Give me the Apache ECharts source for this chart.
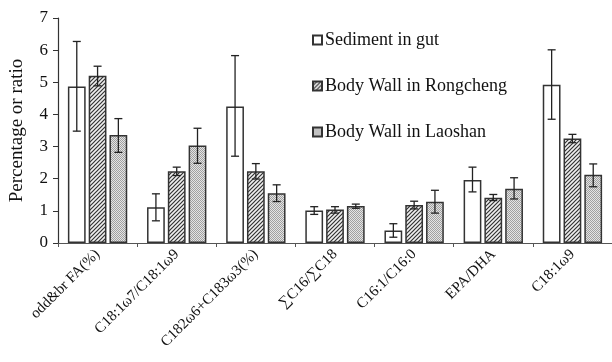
<!DOCTYPE html>
<html><head><meta charset="utf-8">
<script src="https://cdn.jsdelivr.net/npm/echarts@6/dist/echarts.min.js"></script>
<style>html,body{margin:0;padding:0;background:#fff}#c{width:612px;height:362px}</style>
</head><body><div id="c"></div>
<script>
var categories = ['odd&br FA(%)', 'C18:1ω7/C18:1ω9', 'C182ω6+C183ω3(%)', '∑C16/∑C18', 'C16:1/C16:0', 'EPA/DHA', 'C18:1ω9'];
var seriesNames = ['Sediment in gut', 'Body Wall in Rongcheng', 'Body Wall in Laoshan'];
var sediment = [4.87, 1.11, 4.25, 1.01, 0.39, 1.96, 4.92];
var sedimentLow = [3.48, 0.69, 2.70, 0.89, 0.18, 1.59, 3.85];
var sedimentHigh = [6.27, 1.53, 5.83, 1.13, 0.60, 2.36, 6.01];
var rongcheng = [5.20, 2.23, 2.23, 1.04, 1.18, 1.41, 3.25];
var rongchengLow = [4.89, 2.10, 1.99, 0.93, 1.06, 1.32, 3.12];
var rongchengHigh = [5.50, 2.36, 2.47, 1.13, 1.30, 1.51, 3.38];
var laoshan = [3.36, 3.03, 1.55, 1.15, 1.28, 1.69, 2.12];
var laoshanLow = [2.82, 2.48, 1.29, 1.08, 0.93, 1.37, 1.75];
var laoshanHigh = [3.87, 3.57, 1.81, 1.21, 1.64, 2.03, 2.46];
var yTicks = [0, 1, 2, 3, 4, 5, 6, 7];

function hatchPattern() {
  var c = document.createElement('canvas'); c.width = 4; c.height = 4;
  var g = c.getContext('2d');
  g.fillStyle = '#f0f0f0'; g.fillRect(0, 0, 4, 4);
  g.strokeStyle = '#333'; g.lineWidth = 1.2;
  g.beginPath();
  g.moveTo(-1, 5); g.lineTo(5, -1);
  g.moveTo(-1, 1); g.lineTo(1, -1);
  g.moveTo(3, 5); g.lineTo(5, 3);
  g.stroke();
  return c;
}
function dotPattern() {
  var c = document.createElement('canvas'); c.width = 2; c.height = 2;
  var g = c.getContext('2d');
  g.fillStyle = '#e4e4e4'; g.fillRect(0, 0, 2, 2);
  g.fillStyle = '#a0a0a0'; g.fillRect(0, 0, 1, 1); g.fillRect(1, 1, 1, 1);
  return c;
}
var fills = ['#ffffff', {image: hatchPattern(), repeat: 'repeat'}, {image: dotPattern(), repeat: 'repeat'}];
var values = [sediment, rongcheng, laoshan];
var lows = [sedimentLow, rongchengLow, laoshanLow];
var highs = [sedimentHigh, rongchengHigh, laoshanHigh];

var CAT_GAP = 0.25, BAR_GAP = 0.17;
var font = '"Liberation Serif", "DejaVu Serif", serif';

var series = [];
values.forEach(function (v, i) {
  series.push({
    name: seriesNames[i], type: 'bar', data: v,
    barGap: (BAR_GAP * 100) + '%', barCategoryGap: (CAT_GAP * 100) + '%',
    itemStyle: {color: fills[i], borderColor: '#333', borderWidth: 1.5},
    emphasis: {disabled: true}
  });
});
values.forEach(function (v, i) {
  var data = categories.map(function (c, k) { return [k, lows[i][k], highs[i][k]]; });
  series.push({
    type: 'custom', data: data, z: 5, silent: true,
    renderItem: function (params, api) {
      var k = api.value(0);
      var band = api.size([1, 0])[0];
      var groupW = band * (1 - CAT_GAP);
      var barW = groupW / (3 + 2 * BAR_GAP);
      var off = -groupW / 2 + barW / 2 + i * barW * (1 + BAR_GAP);
      var lo = api.coord([k, api.value(1)]);
      var hi = api.coord([k, api.value(2)]);
      var x = lo[0] + off, cap = 4;
      var st = {stroke: '#222', lineWidth: 1.3};
      return {type: 'group', children: [
        {type: 'line', shape: {x1: x, y1: lo[1], x2: x, y2: hi[1]}, style: st},
        {type: 'line', shape: {x1: x - cap, y1: lo[1], x2: x + cap, y2: lo[1]}, style: st},
        {type: 'line', shape: {x1: x - cap, y1: hi[1], x2: x + cap, y2: hi[1]}, style: st}
      ]};
    }
  });
});

var chart = echarts.init(document.getElementById('c'), null, {renderer: 'canvas'});
chart.setOption({
  animation: false,
  backgroundColor: '#fff',
  grid: {left: 52, right: 0, top: 18, bottom: 119},
  legend: {
    data: seriesNames, orient: 'vertical', left: 307, top: 25, itemGap: 26,
    icon: 'rect', itemWidth: 9, itemHeight: 9,
    textStyle: {fontFamily: font, fontSize: 18, lineHeight: 20, color: '#111', padding: [0, 0, 0, -2]},
    selectedMode: false
  },
  xAxis: {
    type: 'category', data: categories,
    axisLine: {lineStyle: {color: '#555', width: 1.2}},
    axisTick: {show: true, alignWithLabel: false, length: 4, lineStyle: {color: '#555'}},
    axisLabel: {rotate: 45, interval: 0, fontFamily: font, fontSize: 15, color: '#111', margin: 9}
  },
  yAxis: {
    type: 'value', min: yTicks[0], max: yTicks[yTicks.length - 1], interval: 1,
    name: 'Percentage or ratio', nameLocation: 'middle', nameGap: 31,
    nameTextStyle: {fontFamily: font, fontSize: 19, color: '#111'},
    axisLine: {show: true, lineStyle: {color: '#333', width: 1.2}},
    axisTick: {show: true, length: 5, inside: false, lineStyle: {color: '#333'}},
    splitLine: {show: false},
    axisLabel: {fontFamily: font, fontSize: 17, color: '#111', margin: 10}
  },
  series: series
});
</script></body></html>
